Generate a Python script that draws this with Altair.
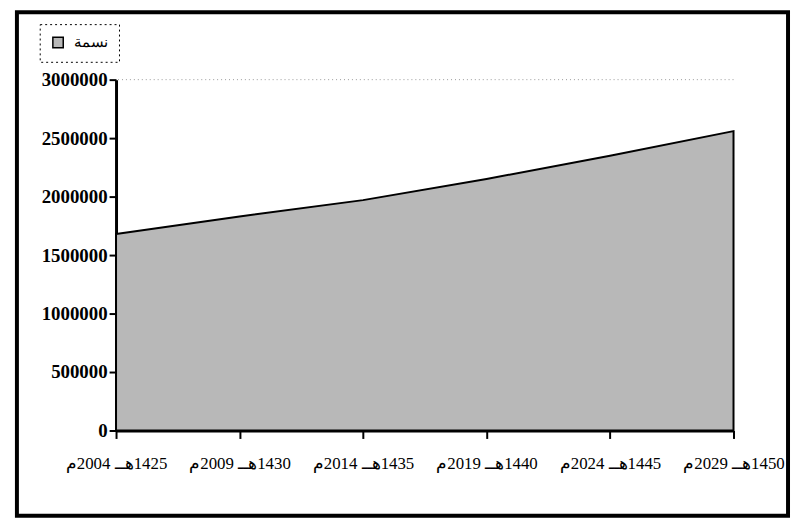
import altair as alt
import pandas as pd

# Data
periods = ["1425هــ 2004م", "1430هــ 2009م", "1435هــ 2014م",
           "1440هــ 2019م", "1445هــ 2024م", "1450هــ 2029م"]
population = [1680000, 1830000, 1970000, 2150000, 2350000, 2560000]
series_name = "نسمة"
y_ticks = [0, 500000, 1000000, 1500000, 2000000, 2500000, 3000000]

# right-to-left embedding so each label reads like the Arabic original
labels = ["\u202B" + p + "\u202C" for p in periods]

df = pd.DataFrame({"period": labels, "value": population, "series": [series_name] * len(labels)})

SERIF = "Liberation Serif"
FILL = "#b8b8b8"

x = alt.X("period:O", sort=labels, title=None,
          scale=alt.Scale(padding=0),
          axis=alt.Axis(labelAngle=0, tickSize=8, tickWidth=2, domainWidth=3,
                        domainColor="black", tickColor="black",
                        labelFont=SERIF, labelFontSize=17, labelColor="black",
                        labelPadding=17, labelOverlap=False, grid=False))
y = alt.Y("value:Q", title=None,
          scale=alt.Scale(domain=[0, 3000000], nice=False),
          axis=alt.Axis(values=y_ticks, format="d", tickSize=7, tickWidth=2,
                        domainWidth=3, domainColor="black", tickColor="black",
                        labelFont=SERIF, labelFontSize=19, labelFontWeight="bold",
                        labelColor="black", labelPadding=2, grid=False))

area = alt.Chart(df).mark_area(stroke="black", strokeWidth=2, fillOpacity=1).encode(
    x=x, y=y,
    color=alt.Color("series:N", title=None,
                    scale=alt.Scale(range=[FILL]),
                    legend=alt.Legend(orient="none", legendX=-77, legendY=-56,
                                      symbolType="square", symbolSize=110,
                                      symbolStrokeColor="black", symbolStrokeWidth=1.5,
                                      symbolFillColor=FILL,
                                      labelFont=SERIF, labelFontSize=15, labelColor="black",
                                      padding=11, labelOffset=9))
)

top_line = alt.Chart(pd.DataFrame({"v": [3000000]})).mark_rule(
    color="#999999", strokeDash=[1, 3], strokeWidth=1
).encode(y=alt.Y("v:Q"))

frame = alt.Chart(pd.DataFrame({"a": [0]})).mark_rect(
    filled=False, stroke="black", strokeWidth=4
).encode(x=alt.value(-100), x2=alt.value(678), y=alt.value(-68), y2=alt.value(440))

chart = alt.layer(area, top_line, frame).properties(
    width=623, height=354,
    autosize=alt.AutoSizeParams(type="none"),
    padding={"left": 109, "top": 70, "right": 58, "bottom": 88},
).configure(
    background="white", view=alt.ViewConfig(stroke=None)
).configure_legend(
    strokeColor="black", strokeDash=[2, 3]
)

chart.save("out.html", embed_options={"renderer": "svg", "actions": False})
